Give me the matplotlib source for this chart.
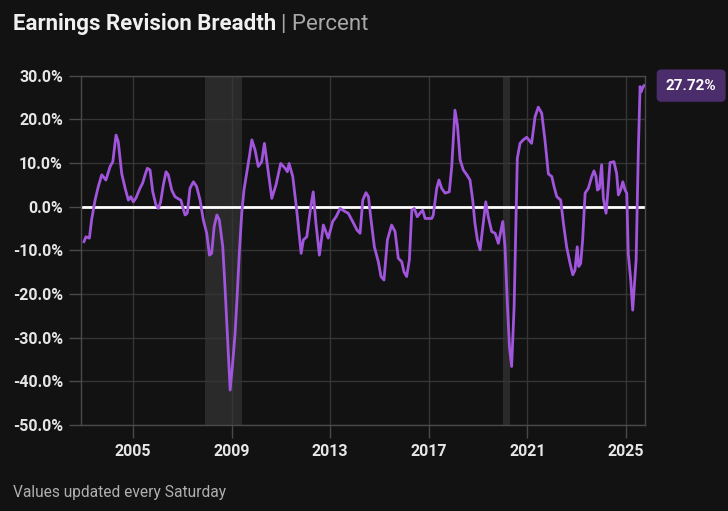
import matplotlib
matplotlib.use("Agg")
import matplotlib.pyplot as plt
import matplotlib.transforms as mtransforms

# ---- data ----
years = [
    2003.01, 2003.09, 2003.23, 2003.32, 2003.46, 2003.59, 2003.73, 2003.90, 2004.07, 2004.18,
    2004.31, 2004.40, 2004.54, 2004.68, 2004.81, 2004.91, 2005.01, 2005.12, 2005.28, 2005.39,
    2005.49, 2005.58, 2005.69, 2005.80, 2005.93, 2006.03, 2006.12, 2006.23, 2006.34, 2006.43,
    2006.57, 2006.70, 2006.84, 2006.94, 2007.11, 2007.20, 2007.31, 2007.45, 2007.58, 2007.72,
    2007.85, 2007.99, 2008.10, 2008.19, 2008.29, 2008.40, 2008.50, 2008.64, 2008.73, 2008.83,
    2008.94, 2009.03, 2009.14, 2009.23, 2009.31, 2009.41, 2009.50, 2009.61, 2009.72, 2009.82,
    2009.95, 2010.08, 2010.22, 2010.33, 2010.42, 2010.56, 2010.63, 2010.80, 2010.89, 2010.99,
    2011.17, 2011.26, 2011.33, 2011.48, 2011.64, 2011.82, 2011.91, 2012.05, 2012.21, 2012.31,
    2012.42, 2012.56, 2012.72, 2012.92, 2013.10, 2013.24, 2013.40, 2013.60, 2013.73, 2013.91,
    2014.08, 2014.21, 2014.32, 2014.45, 2014.55, 2014.64, 2014.79, 2014.95, 2015.06, 2015.18,
    2015.32, 2015.49, 2015.63, 2015.76, 2015.90, 2015.99, 2016.10, 2016.21, 2016.31, 2016.41,
    2016.53, 2016.64, 2016.75, 2016.85, 2017.12, 2017.18, 2017.32, 2017.41, 2017.52, 2017.66,
    2017.83, 2017.93, 2018.06, 2018.16, 2018.27, 2018.40, 2018.54, 2018.67, 2018.78, 2018.87,
    2018.97, 2019.08, 2019.19, 2019.31, 2019.41, 2019.55, 2019.69, 2019.82, 2020.00, 2020.09,
    2020.18, 2020.27, 2020.36, 2020.46, 2020.54, 2020.59, 2020.70, 2020.83, 2020.97, 2021.17,
    2021.31, 2021.44, 2021.58, 2021.71, 2021.85, 2021.99, 2022.08, 2022.19, 2022.35, 2022.46,
    2022.59, 2022.73, 2022.84, 2022.93, 2023.02, 2023.08, 2023.16, 2023.24, 2023.34, 2023.47,
    2023.61, 2023.70, 2023.78, 2023.84, 2023.92, 2024.01, 2024.08, 2024.19, 2024.28, 2024.35,
    2024.51, 2024.62, 2024.69, 2024.78, 2024.87, 2024.96, 2025.03, 2025.09, 2025.19, 2025.27,
    2025.41, 2025.50, 2025.57, 2025.61, 2025.68, 2025.73,
]
breadth = [
    -8.0, -6.9, -7.2, -3.0, 1.5, 4.6, 7.3, 6.1, 9.2, 10.3,
    16.4, 14.9, 7.6, 4.2, 1.5, 2.3, 1.1, 2.0, 4.2, 5.4,
    7.3, 8.8, 8.4, 3.4, 0.4, -0.4, 1.1, 5.0, 8.0, 7.3,
    3.8, 2.3, 1.8, 1.5, -1.9, -1.5, 4.2, 5.7, 4.6, 1.5,
    -3.0, -6.1, -11.1, -10.7, -4.6, -1.9, -3.0, -9.2, -18.3, -29.8,
    -42.0, -36.6, -29.0, -19.8, -10.7, -1.5, 3.8, 7.6, 11.5, 15.3,
    13.0, 9.2, 10.3, 14.5, 10.7, 4.6, 1.9, 5.0, 7.3, 9.9,
    8.8, 8.0, 9.9, 6.9, -0.8, -10.7, -7.6, -6.9, 0.0, 3.4,
    -3.8, -11.1, -4.2, -7.2, -3.4, -2.3, -0.4, -1.1, -1.5, -3.4,
    -5.3, -6.1, 1.5, 3.2, 2.3, -2.3, -9.2, -12.6, -16.0, -16.8,
    -7.6, -4.2, -5.7, -11.8, -12.6, -14.9, -16.0, -12.2, -0.8, -0.4,
    -2.3, -1.5, -0.8, -2.7, -2.7, -1.9, 4.2, 6.1, 4.2, 3.1,
    3.4, 9.2, 22.1, 18.7, 10.7, 8.4, 7.3, 6.1, 1.5, -3.8,
    -7.6, -9.9, -4.6, 1.1, -2.3, -5.7, -6.1, -8.4, -3.4, -9.2,
    -21.4, -32.1, -36.6, -22.9, -2.3, 11.1, 14.5, 15.3, 15.9, 14.5,
    20.6, 22.8, 21.4, 15.3, 7.5, 6.9, 4.6, 2.3, 1.5, -3.8,
    -9.2, -13.0, -15.6, -14.5, -9.2, -13.7, -13.0, -7.6, 3.1, 4.2,
    6.9, 8.2, 6.9, 3.8, 4.2, 9.6, 1.9, -1.5, 4.6, 10.1,
    10.3, 7.6, 2.7, 3.8, 5.7, 3.8, 3.1, -10.7, -16.8, -23.7,
    -12.2, 13.0, 27.5, 26.3, 27.3, 27.72,
]
recessions = [(2007.9, 2009.42), (2020.0, 2020.3)]
xticks = [2005, 2009, 2013, 2017, 2021, 2025]
yticks = [30, 20, 10, 0, -10, -20, -30, -40, -50]

bg = '#121212'
line_col = '#a055dc'
grid_col = '#353535'

plt.rcParams['font.family'] = ['Roboto', 'DejaVu Sans']

fig = plt.figure(figsize=(7.28, 5.11), dpi=100, facecolor=bg)
ax = fig.add_axes([0.1113, 0.1683, 0.7747, 0.6836], facecolor=bg)

for start, end in recessions:
    ax.axvspan(start, end, color='#2a2a2a', lw=0, zorder=0)

ax.plot(years, breadth, color=line_col, lw=2, zorder=3, solid_joinstyle='round')
ax.axhline(0, color='white', lw=2, zorder=2)

ax.set_xlim(2002.89, 2025.77)
ax.set_ylim(-50, 30)
ax.set_xticks(xticks)
ax.set_yticks(yticks)
ax.set_yticklabels([f'{v:.1f}%' for v in yticks])
ax.grid(True, color=grid_col, lw=1, zorder=1)
ax.set_axisbelow(True)

for sp in ax.spines.values():
    sp.set_color('#4a4a4a')
    sp.set_linewidth(1)

ax.tick_params(axis='both', colors='#4a4a4a', length=9, width=1)
ax.tick_params(axis='y', labelcolor='#e6e6e6', labelsize=11.5, pad=4)
ax.tick_params(axis='x', labelcolor='#e6e6e6', labelsize=11.5, pad=5)
for lab in ax.get_yticklabels() + ax.get_xticklabels():
    lab.set_fontweight('bold')

# last value tag on the right
last = breadth[-1]
trans = mtransforms.blended_transform_factory(ax.transAxes, ax.transData)
ax.annotate(f'{last:.2f}%', xy=(1, last), xycoords=trans,
            xytext=(15, 0), textcoords='offset points', ha='left', va='center',
            color='white', fontsize=11, fontweight='bold', annotation_clip=False,
            bbox=dict(boxstyle='round,pad=0.6,rounding_size=0.3', fc='#4b2d6b', ec='none'))

title = fig.text(0.018, 0.953, 'Earnings Revision Breadth', color='#f0f0f0', fontsize=16,
                 fontweight='bold', ha='left', va='center')
fig.canvas.draw()
tb = title.get_window_extent(fig.canvas.get_renderer())
fig.text((tb.x1 + 5) / fig.bbox.width, 0.953, '| Percent', color='#a8a8a8', fontsize=16,
         ha='left', va='center')
fig.text(0.018, 0.037, 'Values updated every Saturday', color='#b0b0b0', fontsize=11.2,
         ha='left', va='center')

fig.savefig('out.png', dpi=100, facecolor=bg)
